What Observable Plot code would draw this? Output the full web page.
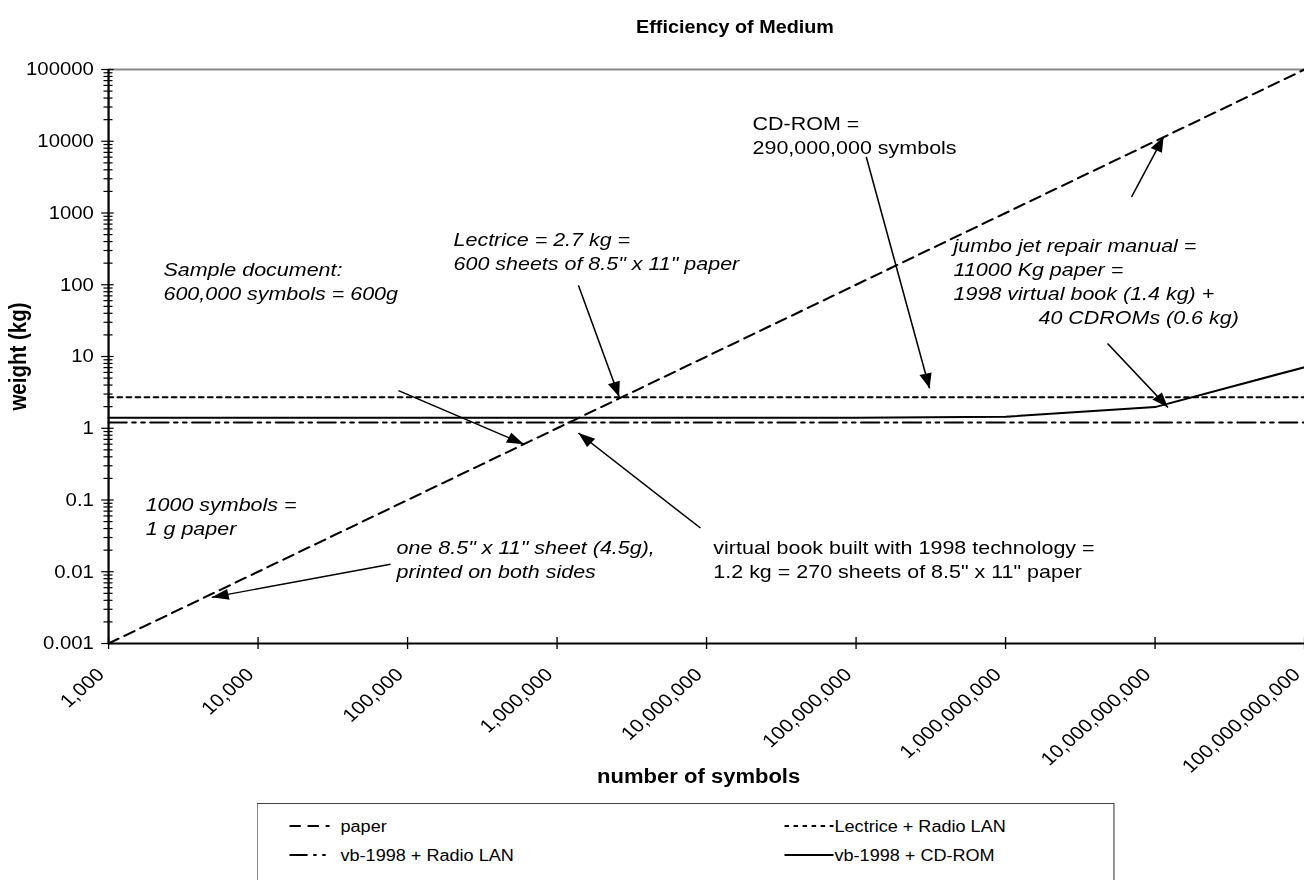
<!DOCTYPE html>
<html><head><meta charset="utf-8">
<script src="https://cdn.jsdelivr.net/npm/d3@7"></script>
<script src="https://cdn.jsdelivr.net/npm/@observablehq/plot@0.6"></script>
<style>
body{margin:0;background:#fff;font-family:"Liberation Sans",Arial,sans-serif;overflow:hidden;}
#outer{position:relative;width:1304px;height:880px;overflow:hidden;background:#fff;}
#wrap{position:absolute;left:0;top:0;width:1154px;height:880px;transform-origin:0 0;}
#title{position:absolute;top:17px;text-align:center;font-weight:bold;font-size:17.5px;white-space:nowrap;}
#chart{position:absolute;left:0;top:0;}
#legend{position:absolute;top:803px;}
</style></head><body>
<div id="outer"><div id="wrap"><div id="title"></div><div id="chart"></div><div id="legend"></div></div></div>
<script>
// ---- data ----
const symbols = [1e3, 1e4, 1e5, 1e6, 1e7, 1e8, 1e9, 1e10, 1e11];
const paperKg = [0.001, 0.01, 0.1, 1, 10, 100, 1000, 10000, 100000];
const lectriceKg = [2.7, 2.7, 2.7, 2.7, 2.7, 2.7, 2.7, 2.7, 2.7];
const vbRadioKg = [1.2, 1.2, 1.2, 1.2, 1.2, 1.2, 1.2, 1.2, 1.2];
const vbCdromKg = [1.4, 1.4, 1.4, 1.4, 1.4, 1.4, 1.45, 1.97, 7.1];
const seriesNames = ["paper", "Lectrice + Radio LAN", "vb-1998 + Radio LAN", "vb-1998 + CD-ROM"];

const xTicks = [1e3, 1e4, 1e5, 1e6, 1e7, 1e8, 1e9, 1e10, 1e11];
const xTickLabels = ["1,000", "10,000", "100,000", "1,000,000", "10,000,000", "100,000,000", "1,000,000,000", "10,000,000,000", "100,000,000,000"];
const yTicks = [0.001, 0.01, 0.1, 1, 10, 100, 1000, 10000, 100000];
const yTickLabels = ["0.001", "0.01", "0.1", "1", "10", "100", "1000", "10000", "100000"];

const titleText = "Efficiency of Medium";
const xLabel = "number of symbols";
const yLabel = "weight (kg)";

// annotations (data coordinates: symbols, kg)
const italicNotes = ["Sample document:", "600,000 symbols = 600g", "Lectrice = 2.7 kg =", "600 sheets of 8.5\" x 11\" paper",
  "jumbo jet repair manual =", "11000 Kg paper =", "1998 virtual book (1.4 kg) +", "40 CDROMs (0.6 kg)",
  "1000 symbols =", "1 g paper", "one 8.5\" x 11\" sheet (4.5g),", "printed on both sides"];
const italicNoteX = [2.33e3, 2.33e3, 2.03e5, 2.03e5, 4.49e8, 4.49e8, 4.49e8, 1.66e9, 1.77e3, 1.77e3, 8.44e4, 8.44e4];
const italicNoteY = [160, 73.6, 419, 194, 345, 160, 73.6, 34.0, 0.0851, 0.0393, 0.0213, 0.00984];
const plainNotes = ["CD-ROM =", "290,000,000 symbols", "virtual book built with 1998 technology =", "1.2 kg = 270 sheets of 8.5\" x 11\" paper"];
const plainNoteX = [2.03e7, 2.03e7, 1.11e7, 1.11e7];
const plainNoteY = [17600, 8110, 0.0213, 0.00984];

const arrowFromX = [8.7e4, 1.39e6, 1.17e8, 6.96e9, 4.81e9, 7.69e4, 9.1e6];
const arrowFromY = [3.34, 98, 6070, 1675, 15.2, 0.0127, 0.0406];
const arrowToX = [6.0e5, 2.6e6, 3.1e8, 1.14e10, 1.22e10, 4.9e3, 1.39e6];
const arrowToY = [0.6, 2.75, 3.6, 11500, 1.95, 0.0044, 0.86];

// ---- layout / styles ----
const OUT_W = 1304, IN_W = 1154, S = OUT_W / IN_W; // horizontal stretch of the original picture
const wrap = document.getElementById("wrap");
wrap.style.transform = `scaleX(${S})`;
const ML = 108 / S;
const dashes = {"paper": "10,6", "Lectrice + Radio LAN": "4,4", "vb-1998 + Radio LAN": "16,5,3,5,3,5", "vb-1998 + CD-ROM": null};
const valuesBySeries = [paperKg, lectriceKg, vbRadioKg, vbCdromKg];

const rows = [];
seriesNames.forEach((s, i) => symbols.forEach((x, j) => rows.push({series: s, x, y: valuesBySeries[i][j]})));
const notesI = italicNotes.map((t, i) => ({t, x: italicNoteX[i], y: italicNoteY[i]}));
const notesP = plainNotes.map((t, i) => ({t, x: plainNoteX[i], y: plainNoteY[i]}));
const arrows = arrowFromX.map((_, i) => ({x1: arrowFromX[i], y1: arrowFromY[i], x2: arrowToX[i], y2: arrowToY[i]}));

const minorY = [];
for (let e = -3; e < 5; e++) for (let m = 2; m <= 9; m++) minorY.push(m * Math.pow(10, e));

const fmtX = d => xTickLabels[xTicks.indexOf(d)];
const fmtY = d => yTickLabels[yTicks.indexOf(d)];

const titleEl = document.getElementById("title");
titleEl.textContent = titleText;
titleEl.style.left = (735 / S - 300) + "px";
titleEl.style.width = "600px";

const seriesMarks = seriesNames.map(s => Plot.line(rows.filter(r => r.series === s), {
  x: "x", y: "y", stroke: "black", strokeWidth: 2, strokeDasharray: dashes[s]
}));

const chart = Plot.plot({
  width: IN_W, height: 800,
  marginLeft: ML, marginRight: 0, marginTop: 69, marginBottom: 157,
  x: {type: "log", domain: [1e3, 1e11]},
  y: {type: "log", domain: [1e-3, 1e5]},
  style: {fontFamily: "'Liberation Sans', Arial, sans-serif", fontSize: "18px", color: "black", background: "transparent", overflow: "visible"},
  marks: [
    Plot.ruleY([1e5], {stroke: "#888", strokeWidth: 2}),
    ...seriesMarks,
    Plot.link(arrows, {x1: "x1", y1: "y1", x2: "x2", y2: "y2", stroke: "black", strokeWidth: 1.4}),
    Plot.text(notesI, {x: "x", y: "y", text: "t", textAnchor: "start", fontStyle: "italic", fontSize: 19}),
    Plot.text(notesP, {x: "x", y: "y", text: "t", textAnchor: "start", fontSize: 19}),
    Plot.axisY({ticks: minorY, tickFormat: () => "", tickSize: 8, insetLeft: 4, label: null, strokeWidth: 1.2}),
    Plot.axisY({ticks: yTicks, tickFormat: fmtY, tickSize: 11, insetLeft: 5, tickPadding: 7, label: null, strokeWidth: 1.2}),
    Plot.axisX({ticks: xTicks, tickFormat: () => "", tickSize: 12, insetBottom: 6, label: null, strokeWidth: 1.2}),
    Plot.axisX({ticks: xTicks, tickFormat: fmtX, tickSize: 0, tickPadding: 28, dx: -7, tickRotate: -45, label: null, fontSize: 18.5}),
    Plot.ruleX([1e3], {stroke: "black", strokeWidth: 2}),
    Plot.ruleY([1e-3], {stroke: "black", strokeWidth: 2}),
    Plot.text([xLabel], {frameAnchor: "bottom", dy: 139, dx: -7, fontWeight: "bold", fontSize: 19.5}),
    Plot.text([yLabel], {frameAnchor: "left", textAnchor: "middle", dx: 18 / S - ML, rotate: -90, fontWeight: "bold", fontSize: 20.5})
  ]
});

// filled arrowheads
const ns = "http://www.w3.org/2000/svg";
const defs = document.createElementNS(ns, "defs");
const marker = document.createElementNS(ns, "marker");
marker.setAttribute("id", "ahead");
marker.setAttribute("viewBox", "-17 -7 18 14");
marker.setAttribute("markerWidth", 18);
marker.setAttribute("markerHeight", 14);
marker.setAttribute("markerUnits", "userSpaceOnUse");
marker.setAttribute("orient", "auto");
marker.setAttribute("refX", 0);
marker.setAttribute("refY", 0);
const mp = document.createElementNS(ns, "path");
mp.setAttribute("d", "M-15,-5.5L0,0L-15,5.5Z");
mp.setAttribute("fill", "black");
marker.appendChild(mp);
defs.appendChild(marker);
chart.insertBefore(defs, chart.firstChild);
chart.querySelectorAll('g[aria-label="link"] path').forEach(p => p.setAttribute("marker-end", "url(#ahead)"));
document.getElementById("chart").appendChild(chart);

// legend
const LW = 858 / S;
const legendEl = document.getElementById("legend");
legendEl.style.left = (257 / S) + "px";
const lg = d3.select(legendEl).append("svg").attr("width", LW).attr("height", 80)
  .style("font-family", "'Liberation Sans', Arial, sans-serif").style("font-size", "16px").style("display", "block");
lg.append("rect").attr("x", 0.5).attr("y", 0.5).attr("width", LW - 1).attr("height", 79).attr("fill", "white").attr("stroke", "#444");
const lpos = [[33, 73, 84, 23], [528, 577, 578, 23], [33, 73, 84, 52], [528, 577, 578, 52]];
seriesNames.forEach((s, i) => {
  const [a, b, tx, ty] = lpos[i];
  lg.append("line").attr("x1", a / S).attr("x2", b / S).attr("y1", ty).attr("y2", ty).attr("stroke", "black").attr("stroke-width", 2).attr("stroke-dasharray", dashes[s]);
  lg.append("text").attr("x", tx / S).attr("y", ty).attr("dy", "0.35em").text(s);
});
</script></body></html>
